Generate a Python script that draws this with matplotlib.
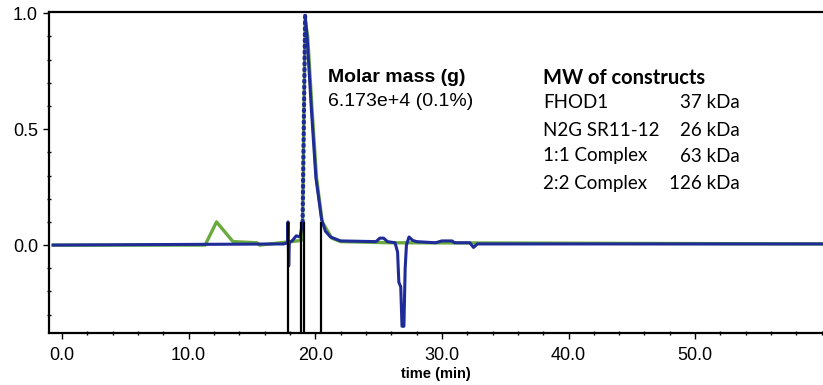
import numpy as np
import matplotlib.pyplot as plt
from matplotlib.ticker import MultipleLocator

# trace LS (green) and blue trace
green_t = [-0.7, 11.3, 12.2, 13.5, 15.4, 15.6, 18.9, 19.0, 19.2, 19.4, 19.75, 20.1, 20.55, 21.3, 22.0, 26.0, 27.5, 60.5]
green_y = [0.0, 0.0, 0.10, 0.015, 0.01, 0.0, 0.02, 0.1, 0.97, 0.9, 0.58, 0.29, 0.10, 0.03, 0.015, 0.01, 0.01, 0.005]

blue_pre_t = [-0.7, 17.5, 17.8, 17.85, 17.9, 17.95, 18.2, 18.5, 18.8, 19.0]
blue_pre_y = [0.0, 0.005, 0.01, 0.10, -0.09, 0.01, 0.02, 0.04, 0.035, 0.1]

blue_rise_t = [19.0, 19.2]
blue_rise_y = [0.1, 0.99]

blue_post_t = [19.2, 19.35, 19.7, 20.05, 20.5, 20.8, 21.2, 22.0, 24.8, 25.1, 25.4, 25.7, 26.3, 26.5, 26.6,
               26.75, 26.85, 27.0, 27.1, 27.2, 27.4, 27.7, 28.0, 29.5, 30.0, 30.8, 31.0, 32.2, 32.5, 32.8, 60.5]
blue_post_y = [0.99, 0.9, 0.58, 0.29, 0.11, 0.06, 0.035, 0.018, 0.015, 0.03, 0.03, 0.015, 0.01, -0.03, -0.16,
               -0.18, -0.35, -0.35, -0.1, 0.0, 0.035, 0.02, 0.015, 0.01, 0.018, 0.018, 0.01, 0.01, -0.01, 0.005, 0.005]

# limites de pics
peak_marks = [17.85, 18.85, 19.1, 20.45]
peak_top = 0.1

x_ticks = [0, 10, 20, 30, 40, 50]
constructs = ["FHOD1", "N2G SR11-12", "1:1 Complex", "2:2 Complex"]
masses = ["37 kDa", "26 kDa", "63 kDa", "126 kDa"]

blue = "#1f2b96"
green = "#6aaa3c"

fig = plt.figure(figsize=(8.23, 3.85), dpi=100)
ax = fig.add_axes([49/823, 1-333/385, 1-49/823, (333-12)/385])

ax.plot(green_t, green_y, color=green, lw=2.4, zorder=2)
ax.plot(blue_pre_t, blue_pre_y, color=blue, lw=2.2, zorder=3)
ax.plot(blue_rise_t, blue_rise_y, color=blue, lw=3, linestyle=(0, (0.3, 1.1)), dash_capstyle="round", zorder=3)
ax.plot(blue_post_t, blue_post_y, color=blue, lw=2.2, zorder=3)

ymin, ymax = -0.379, 1.005
ax.vlines(peak_marks, ymin, peak_top, color="black", lw=1.6, zorder=4)

ax.set_xlim(-1.03, 60.1)
ax.set_ylim(ymin, ymax)

ax.spines["right"].set_visible(False)
for s in ["left", "bottom", "top"]:
    ax.spines[s].set_linewidth(1.6)

ax.set_xticks(x_ticks)
ax.xaxis.set_minor_locator(MultipleLocator(2))
ax.yaxis.set_major_locator(MultipleLocator(0.5))
ax.yaxis.set_minor_locator(MultipleLocator(0.1))
ax.xaxis.set_major_formatter(plt.FuncFormatter(lambda v, p: f"{v:.1f}"))
ax.yaxis.set_major_formatter(plt.FuncFormatter(lambda v, p: f"{v:.1f}"))
ax.tick_params(axis="both", which="major", direction="out", length=4, width=1, pad=4, labelsize=13)
ax.tick_params(axis="both", which="minor", direction="inout", length=3, width=1)
ax.tick_params(axis="x", pad=6)
for lab in ax.get_xticklabels() + ax.get_yticklabels():
    lab.set_family("Liberation Sans")

ax.set_xlabel("time (min)", family="Liberation Sans", fontsize=10.5, fontweight="bold", labelpad=2)

# annotations
ax.text(328/823, 1-78/385, "Molar mass (g)", transform=fig.transFigure, family="Liberation Sans",
        fontweight="bold", fontsize=14, va="center", ha="left")
ax.text(328/823, 1-101/385, "6.173e+4 (0.1%)", transform=fig.transFigure, family="Liberation Sans",
        fontsize=14, va="center", ha="left")

ax.text(543/823, 1-78/385, "MW of constructs", transform=fig.transFigure, family="Lato",
        fontweight="bold", fontsize=14.5, va="center", ha="left")
rows_y = [103, 130, 156, 183]
for name, m, yy in zip(constructs, masses, rows_y):
    ax.text(543/823, 1-yy/385, name, transform=fig.transFigure, family="Lato", fontsize=13.5, va="center", ha="left")
    ax.text(740/823, 1-yy/385, m, transform=fig.transFigure, family="Lato", fontsize=13.5, va="center", ha="right")

fig.savefig("out.png", dpi=100)
